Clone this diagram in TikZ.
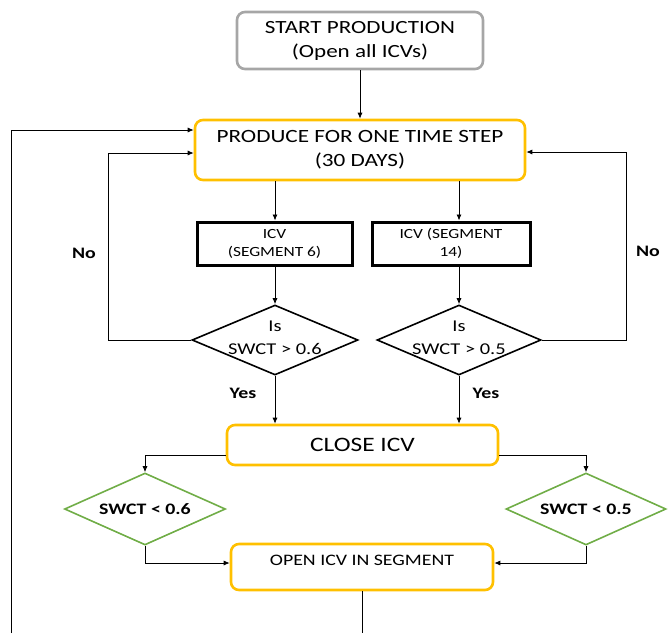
\documentclass[tikz,border=0pt]{standalone}
\usepackage{fontspec}
\setmainfont[FakeStretch=1.24]{Carlito}
\usetikzlibrary{shapes.geometric,arrows.meta,calc}
\definecolor{cOrange}{HTML}{FFC000}
\definecolor{cGray}{HTML}{A6A6A6}
\definecolor{cGreen}{HTML}{70AD47}
\begin{document}
\begin{tikzpicture}[x=1pt,y=-1pt,
  conn/.style={line width=0.8pt,draw=black},
  arr/.style={conn,-{Latex[length=6pt,width=5pt]}},
  rbox/.style={draw,rounded corners=8pt,line width=2.6pt,align=center,inner sep=0pt},
  sqbox/.style={draw,line width=3pt,align=center,inner sep=0pt,font=\fontsize{14}{18}\selectfont},
  dia/.style={diamond,draw,line width=1.6pt,inner sep=0pt},
  diatext/.style={font=\fontsize{16.5}{23}\selectfont,align=center,inner sep=0pt},
  diabold/.style={font=\fontsize{16}{18}\selectfont\bfseries,align=center,inner sep=0pt},
  lbl/.style={font=\fontsize{16}{18}\selectfont\bfseries}]
\useasboundingbox (0,0) rectangle (669,633);
\node[rbox,draw=cGray,minimum width=246pt,minimum height=57pt,font=\fontsize{18.6}{24}\selectfont] (start) at (360,40.5) {START PRODUCTION\\(Open all ICVs)};
\node[rbox,draw=cOrange,minimum width=330pt,minimum height=60pt,font=\fontsize{18.7}{24}\selectfont] (prod) at (360,150) {PRODUCE FOR ONE TIME STEP\\(30 DAYS)};
\node[sqbox,minimum width=155pt,minimum height=43pt] (icv1) at (274.5,243.5) {ICV\\(SEGMENT 6)};
\node[sqbox,minimum width=158pt,minimum height=43pt] (icv2) at (451,243.5) {ICV (SEGMENT\\14)};
\node[dia,minimum width=166pt,minimum height=70pt,label={[diatext,yshift=2pt]center:Is\\SWCT > 0.6}] (d1) at (275,340) {};
\node[dia,minimum width=164pt,minimum height=70pt,label={[diatext,yshift=2pt]center:Is\\SWCT > 0.5}] (d2) at (459,340) {};
\node[rbox,draw=cOrange,minimum width=271pt,minimum height=40pt,font=\fontsize{20.5}{24}\selectfont] (close) at (362.5,445) {CLOSE ICV};
\node[dia,draw=cGreen,minimum width=161pt,minimum height=72pt,label={[diabold]center:SWCT < 0.6}] (d3) at (145,509) {};
\node[dia,draw=cGreen,minimum width=160pt,minimum height=72pt,label={[diabold]center:SWCT < 0.5}] (d4) at (586,509) {};
\node[rbox,draw=cOrange,minimum width=262pt,minimum height=46pt,text height=10pt,text depth=14pt,font=\fontsize{16}{18}\selectfont] (open) at (362,567) {OPEN ICV IN SEGMENT};
\node[lbl] (no1) at (84,253) {No};
\node[lbl] (no2) at (648,251) {No};
\node[lbl] (yes1) at (243,393) {Yes};
\node[lbl] (yes2) at (486,393) {Yes};
% connectors
\draw[arr] (start.south) -- (prod.north);
\coordinate (lb) at (11,633);
\coordinate (lt) at (11,130);
\draw[arr] (lb) -- (lt) -- (lt -| prod.west);
\draw[arr] (prod.south -| d1.north) -- (icv1.north -| d1.north);
\draw[arr] (prod.south -| d2.north) -- (icv2.north -| d2.north);
\draw[arr] (icv1.south -| d1.north) -- (d1.north);
\draw[arr] (icv2.south -| d2.north) -- (d2.north);
\coordinate (l1) at (108,340);
\coordinate (l2) at (108,153);
\draw[arr] (d1.west) -- (l1) -- (l2) -- (l2 -| prod.west);
\coordinate (r1) at (626,340);
\coordinate (r2) at (626,152);
\draw[arr] (d2.east) -- (r1) -- (r2) -- (r2 -| prod.east);
\draw[arr] (d1.south) -- (close.north -| d1.south);
\draw[arr] (d2.south) -- (close.north -| d2.south);
\coordinate (cl) at (145,455);
\draw[arr] (close.west |- cl) -- (cl) -- (d3.north);
\coordinate (cr) at (586,455);
\draw[arr] (close.east |- cr) -- (cr) -- (d4.north);
\coordinate (ol) at (145,563);
\draw[arr] (d3.south) -- (ol) -- (open.west |- ol);
\coordinate (or) at (586,563);
\draw[arr] (d4.south) -- (or) -- (open.east |- or);
\coordinate (ob) at (362,633);
\draw[conn] (open.south) -- (ob);
\end{tikzpicture}
\end{document}
